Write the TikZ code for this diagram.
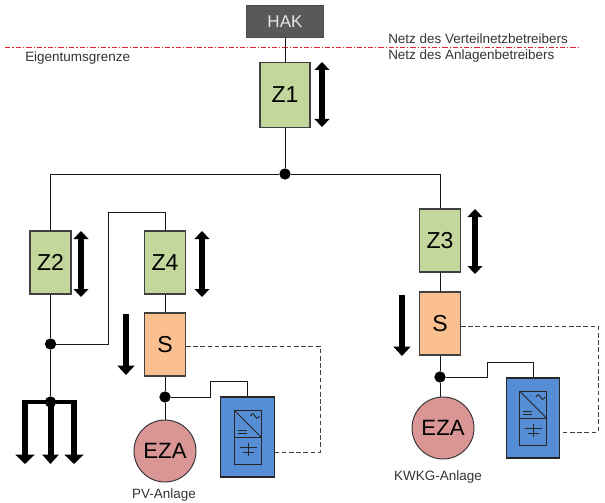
\documentclass[tikz,border=0pt]{standalone}
\usepackage{fontspec}
\setmainfont{Liberation Sans}
\usetikzlibrary{arrows.meta}

\definecolor{hakgrey}{HTML}{595959}
\definecolor{zaehlergreen}{HTML}{C3D69B}
\definecolor{schutzorange}{HTML}{FAC090}
\definecolor{ezared}{HTML}{D99694}
\definecolor{wrblue}{HTML}{558ED5}
\definecolor{grenzred}{HTML}{E8222A}

\tikzset{
  block/.style={draw=black!75, line width=0.8pt, inner sep=0pt, minimum width=30.75pt, minimum height=47.25pt, font=\fontsize{17.3}{17.3}\selectfont},
  zaehler/.style={block, fill=zaehlergreen},
  schutz/.style={block, fill=schutzorange},
  wr/.style={draw=black!85, line width=0.8pt, fill=wrblue, inner sep=0pt, minimum width=40pt, minimum height=60pt},
  ezanode/.style={circle, draw=black!80, line width=0.7pt, fill=ezared, inner sep=0pt, minimum size=46.5pt, font=\fontsize{16.6}{16.6}\selectfont},
  dotnode/.style={circle, fill=black, inner sep=0pt, minimum size=8.5pt},
  wire/.style={line width=0.75pt, black!90},
  steuer/.style={line width=0.75pt, black!75, dash pattern=on 3.4pt off 2pt},
  beschr/.style={inner sep=0pt, text=black!80, font=\fontsize{10.1}{12}\selectfont},
  flowboth/.style={line width=4pt, {Triangle[width=11pt,length=6pt]}-{Triangle[width=11pt,length=6pt]}},
  flowdown/.style={line width=4.5pt, -{Triangle[width=12.5pt,length=7pt]}}
}

\begin{document}
\begin{tikzpicture}[x=0.75pt, y=-0.75pt]

\useasboundingbox (0,0) rectangle (605,502);

% Hausanschluss and boundary
\node[draw=black!70, line width=0.8pt, fill=hakgrey, text=white!90!black, inner sep=0pt, minimum width=57.75pt, minimum height=24.5pt, font=\fontsize{12.8}{12.8}\selectfont] (hak) at (285,21.5) {HAK};
\coordinate (grenzeL) at (5,47);
\coordinate (grenzeR) at (578,47);
\draw[line width=0.6pt, grenzred, dash pattern=on 4pt off 1.5pt on 1pt off 1.5pt] (grenzeL) -- (grenzeR);

\node[beschr, anchor=west] (vnb) at (388,39) {Netz des Verteilnetzbetreibers};
\node[beschr, anchor=west] (anb) at (388,56) {Netz des Anlagenbetreibers};
\node[beschr, anchor=west] (eigen) at (25,58) {Eigentumsgrenze};

% Zaehler and Schutz
\node[zaehler, minimum width=37.5pt, minimum height=48.5pt] (z1) at (285,95) {Z1};
\foreach \nm/\txt/\x/\y/\stil in {z2/Z2/50.5/262.5/zaehler, z4/Z4/165/262.5/zaehler, z3/Z3/440/240.5/zaehler, sl/S/165/344.5/schutz, sr/S/440/323.5/schutz} {
    \node[\stil] (\nm) at (\x,\y) {\txt};
}

% Erzeugungsanlagen
\node[ezanode] (ezal) at (165,451) {EZA};
\node[ezanode] (ezar) at (443,428) {EZA};
\node[beschr, anchor=center] (pv) at (164,495) {PV-Anlage};
\node[beschr, anchor=center] (kwkg) at (438,477) {KWKG-Anlage};

% Wechselrichter, one symbol each
\foreach \nm/\x/\y in {wrl/247.5/437, wrr/533/418} {
    \node[wr] (\nm) at (\x,\y) {};
    \begin{scope}[shift={(\x,\y)}, line width=0.7pt, black!85]
        \draw (-13.5,-27) rectangle (13.5,27);
        \draw (-13.5,-27) -- (13.5,0);
        \draw (-13.5,0) -- (13.5,0);
        \draw (3,-21) .. controls (5,-25) and (7,-23) .. (7.5,-21) .. controls (8,-19) and (10,-17) .. (12,-21);
        \draw (-10,-6.5) -- (-1,-6.5);
        \draw (-10,-3.5) -- (-1,-3.5);
        \draw (-8,10) -- (9,10);
        \draw (-5,15) -- (6,15);
        \draw (0.5,6) -- (0.5,19);
    \end{scope}
}

% Dots
\node[dotnode] (bus) at (285,174) {};
\node[dotnode] (abzw) at (50.5,344) {};
\node[dotnode] (last) at (50.5,402) {};
\node[dotnode] (pvdot) at (165,397) {};
\node[dotnode] (kwdot) at (440,377) {};

% Wires
\draw[wire] (hak) -- (z1);
\draw[wire] (z1) -- (bus);
\draw[wire] (bus) -| (z2.north);
\draw[wire] (bus) -| (z3.north);
\draw[wire] (z2) -- (abzw);
\draw[wire] (abzw) -- (last);
\coordinate (hochL) at (108,212);
\draw[wire] (abzw) -| (hochL) -| (z4.north);
\draw[wire] (z4) -- (sl);
\draw[wire] (z3) -- (sr);
\draw[wire] (sl.south) -- (pvdot);
\draw[wire] (pvdot) -- (ezal);
\draw[wire] (sr.south) -- (kwdot);
\draw[wire] (kwdot) -- (kwdot |- ezar.north);
\coordinate (knickl) at (210,381);
\coordinate (knickr) at (487,362);
\draw[wire] (pvdot) -| (knickl) -| (wrl.north);
\draw[wire] (kwdot) -| (knickr) -| (wrr.north);

% Signal lines
\coordinate (sigl) at (320,346);
\coordinate (sigr) at (598,326);
\coordinate (sigla) at (320,452);
\coordinate (sigra) at (598,432);
\draw[steuer] (sl.east |- sigl) -- (sigl) -- (sigla) -- (wrl.east |- sigla);
\draw[steuer] (sr.east |- sigr) -- (sigr) -- (sigra) -- (wrr.east |- sigra);

% Energy flow arrows
\foreach \nm/\x/\ya/\yb in {p1/322/62/127, p2/81/231/297, p4/202/231/297, p3/475/209/274} {
    \coordinate (\nm a) at (\x,\ya);
    \coordinate (\nm b) at (\x,\yb);
    \draw[flowboth] (\nm a) -- (\nm b);
}
\foreach \nm/\x/\ya/\yb in {p5/126/314/375, p6/402/295/356} {
    \coordinate (\nm a) at (\x,\ya);
    \coordinate (\nm b) at (\x,\yb);
    \draw[flowdown] (\nm a) -- (\nm b);
}

% Load fork
\foreach \nm/\x/\tipw in {la/25/14, lb/50.5/12, lc/74/14} {
    \coordinate (\nm a) at (\x,402);
    \coordinate (\nm b) at (\x,464);
    \draw[line width=4.5pt, -{Triangle[width=\tipw pt,length=7pt]}] (\nm a) -- (\nm b);
}
\draw[line width=2.6pt] ([xshift=-2.2pt]laa) -- ([xshift=2.2pt]lca);

\end{tikzpicture}
\end{document}
